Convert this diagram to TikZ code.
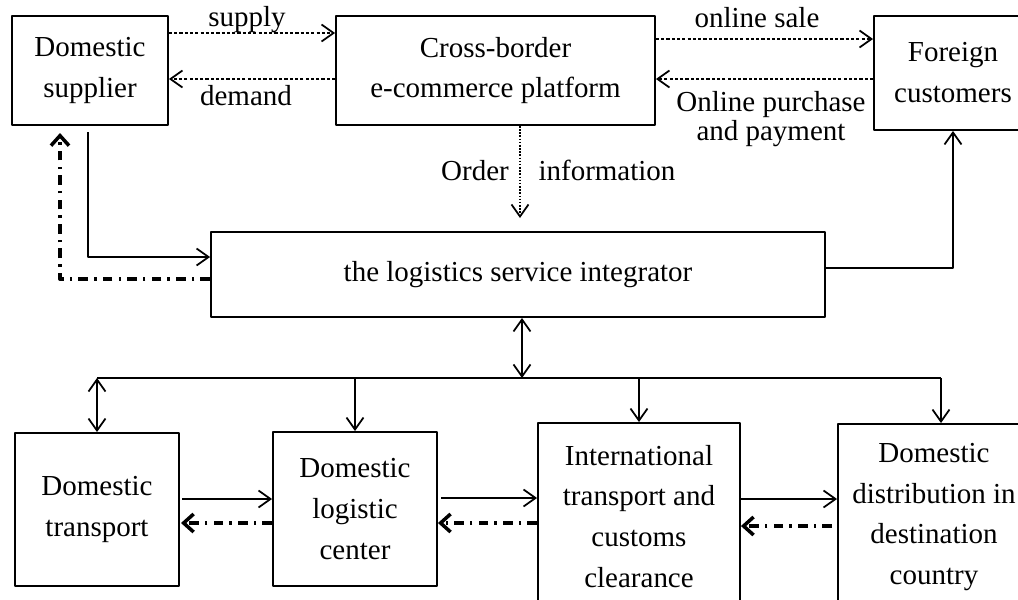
\documentclass[tikz,border=0pt]{standalone}
\usepackage{fontspec}
\setmainfont{Liberation Serif}
\usetikzlibrary{arrows.meta,calc}
\begin{document}
\begin{tikzpicture}[x=0.02cm,y=-0.02cm,line join=round,
    >={Straight Barb[length=2.4mm,width=3.4mm]},
    font=\fontsize{16.5}{23.3}\selectfont,
    box/.style={draw,line width=1.1pt,align=center,inner sep=0pt},
    lbl/.style={inner sep=0pt,anchor=base},
    flow/.style={line width=1pt,->},
    info/.style={line width=1pt,dash pattern=on 1.8pt off 1.2pt,->},
    order/.style={line width=1pt,dash pattern=on 0.9pt off 0.9pt,->},
    back/.style={line width=2.2pt,dash pattern=on 5.5pt off 3.5pt on 1.4pt off 3.5pt,
      -{Straight Barb[length=2mm,width=3.6mm,line width=2pt]}}]
\useasboundingbox (0,0) rectangle (1018,599);
% upper row
\node[box,minimum width=3.12cm,minimum height=2.18cm] (sup) at (90,70.5) {Domestic\\supplier};
\node[box,minimum width=6.38cm,minimum height=2.18cm] (plat) at (495.5,70.5) {Cross-border\\e-commerce platform};
\node[box,minimum width=3.16cm,minimum height=2.28cm] (cust) at (953,73) {Foreign\\customers};
\node[box,minimum width=12.28cm,minimum height=1.7cm] (integ) at (518,274.5) {the logistics service integrator};
% lower row
\node[box,minimum width=3.28cm,minimum height=3.06cm] (trans) at (97,509.5) {Domestic\\transport};
\node[box,minimum width=3.28cm,minimum height=3.08cm] (center) at (355,509) {Domestic\\logistic\\center};
\node[box,minimum width=4.04cm,minimum height=3.74cm] (intl) at (639,516.5) {International\\transport and\\customs\\clearance};
\node[box,minimum width=3.84cm,minimum height=3.72cm] (dist) at (934,517) {Domestic\\distribution in\\destination\\country};
% labels
\node[lbl] (supplyL) at (247,26) {supply};
\node[lbl] (demandL) at (246,105) {demand};
\node[lbl] (saleL) at (757,27) {online sale};
\node[lbl,align=center,font=\fontsize{16.5}{16}\selectfont] (buyL) at (771,140) {Online purchase\\and payment};
\node[lbl] (orderL) at (475,180) {Order};
\node[lbl] (infoL) at (607,180) {information};
% information flow
\draw[info] (sup.east |- 0,33) -- (plat.west |- 0,33);
\draw[info] (plat.west |- 0,79) -- (sup.east |- 0,79);
\draw[info] (plat.east |- 0,39) -- (cust.west |- 0,39);
\draw[info] (cust.west |- 0,79) -- (plat.east |- 0,79);
\draw[order] (plat.south -| 520,0) -- (520,218);
% goods flow
\draw[flow] (88,132) |- (integ.west |- 0,257);
\draw[back] (integ.west |- 0,279) -| (60,133);
\draw[flow] (integ.east |- 0,268) -| (cust.south);
\coordinate (busL) at (97,378);
\coordinate (busR) at (941,378);
\draw[flow,<->] (integ.south -| 522,0) -- (522,378);
\draw[line width=1pt] (busL) -- (busR);
\draw[flow,<->] (busL) -- (trans.north);
\draw[flow] (center.north |- busL) -- (center.north);
\draw[flow] (intl.north |- busL) -- (intl.north);
\draw[flow] (busR) -- (busR |- dist.north);
% transport chain
\draw[flow] (182,499) -- (center.west |- 0,499);
\draw[back] (center.west |- 0,523) -- (181,523);
\draw[flow] (441,498) -- (intl.west |- 0,498);
\draw[back] (intl.west |- 0,523) -- (center.east |- 0,523);
\draw[flow] (intl.east |- 0,499) -- (dist.west |- 0,499);
\draw[back] (832,526) -- (intl.east |- 0,526);
\end{tikzpicture}
\end{document}
